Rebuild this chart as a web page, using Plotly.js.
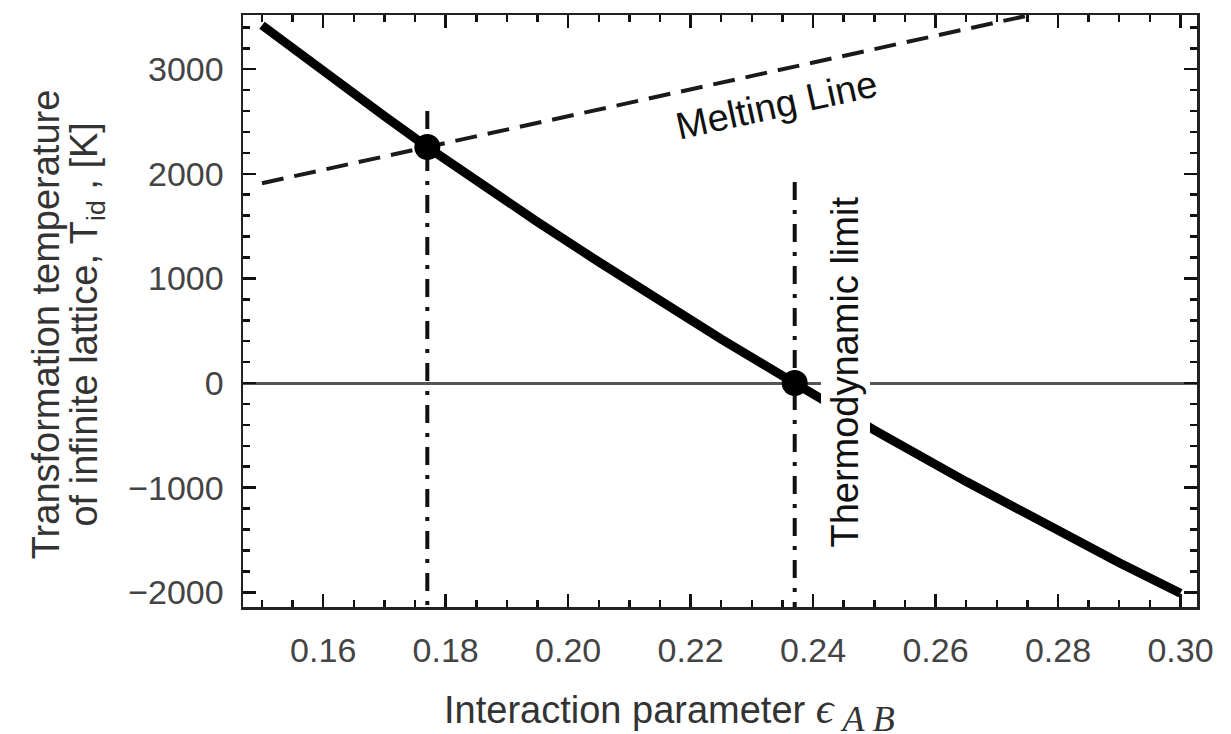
<!DOCTYPE html>
<html>
<head>
<meta charset="utf-8">
<script src="https://cdn.plot.ly/plotly-3.0.1.min.js"></script>
<style>
  html, body { margin: 0; padding: 0; background: #ffffff; }
  #chart { width: 1231px; height: 734px; }
</style>
</head>
<body>
<div id="chart"></div>
<script>
// Transformation temperature of the infinite lattice vs. interaction parameter
const epsAB = [0.150, 0.160, 0.170, 0.177, 0.185, 0.195, 0.205, 0.215, 0.225, 0.237, 0.250, 0.265, 0.280, 0.290, 0.300];
const tId   = [3420, 2978, 2552, 2256, 1932, 1540, 1158, 785, 420, 0, -450, -942, -1413, -1718, -2010];

// Melting line (straight, dashed)
const meltEps = [0.150, 0.2747];
const meltT   = [1910, 3508];

// Highlighted points: crossing with the melting line, and the thermodynamic limit
const markEps = [0.177, 0.237];
const markT   = [2256, 0];

// Vertical guide lines through the highlighted points
const guide1Eps = [0.177, 0.177];
const guide1T   = [2600, -2141];
const guide2Eps = [0.237, 0.237];
const guide2T   = [1922, -2141];

const xRange = [0.1469, 0.3027];
const yRange = [-2141, 3518];

const sans = 'Liberation Sans, Arial, Helvetica, sans-serif';
const ink = '#111111';

const traces = [
  {
    x: meltEps, y: meltT, type: 'scatter', mode: 'lines',
    line: { color: '#1a1a1a', width: 4, dash: '22px,11px' },
    hoverinfo: 'skip'
  },
  {
    x: guide1Eps, y: guide1T, type: 'scatter', mode: 'lines',
    line: { color: '#111', width: 4, dash: '18px,10px,4px,10px' },
    hoverinfo: 'skip'
  },
  {
    x: guide2Eps, y: guide2T, type: 'scatter', mode: 'lines',
    line: { color: '#111', width: 4, dash: '18px,10px,4px,10px' },
    hoverinfo: 'skip'
  },
  {
    x: epsAB, y: tId, type: 'scatter', mode: 'lines',
    line: { color: '#000', width: 9 },
    hoverinfo: 'skip'
  },
  {
    x: markEps, y: markT, type: 'scatter', mode: 'markers',
    marker: { color: '#000', size: 26, line: { width: 0 } },
    hoverinfo: 'skip'
  }
];

const tickCommon = {
  ticks: 'inside', ticklen: 13, tickwidth: 2.5, tickcolor: ink,
  showline: true, linecolor: '#222', linewidth: 2.5, mirror: 'allticks',
  showgrid: false,
  tickfont: { family: sans, size: 34, color: '#444' }
};

const layout = {
  width: 1231, height: 734,
  margin: { l: 243, r: 34, t: 15, b: 127, pad: 0 },
  paper_bgcolor: '#ffffff', plot_bgcolor: '#ffffff',
  showlegend: false,
  xaxis: Object.assign({}, tickCommon, {
    range: xRange, tick0: 0.16, dtick: 0.02, tickformat: '.2f',
    zeroline: false, ticklabelstandoff: 12,
    minor: { tick0: 0.15, dtick: 0.005, ticks: 'inside', ticklen: 7, tickwidth: 2.5, tickcolor: ink, showgrid: false }
  }),
  yaxis: Object.assign({}, tickCommon, {
    range: yRange, tick0: 0, dtick: 1000, tickformat: 'd',
    zeroline: true, zerolinecolor: '#555', zerolinewidth: 3,
    ticklabelstandoff: 10,
    minor: { tick0: 0, dtick: 200, ticks: 'inside', ticklen: 7, tickwidth: 2.5, tickcolor: ink, showgrid: false }
  }),
  annotations: [
    {
      text: 'Transformation temperature',
      xref: 'paper', yref: 'paper', x: -0.2063, y: 0.478,
      xanchor: 'center', yanchor: 'middle', textangle: -90, showarrow: false,
      font: { family: sans, size: 38, color: '#333' }
    },
    {
      text: 'of infinite lattice, T<sub>id</sub> , [K]',
      xref: 'paper', yref: 'paper', x: -0.163, y: 0.478,
      xanchor: 'center', yanchor: 'middle', textangle: -90, showarrow: false,
      font: { family: sans, size: 38, color: '#333' }
    },
    {
      text: 'Interaction parameter <span style="font-family:Liberation Serif;font-size:44px"><i>ϵ</i></span><sub><span style="font-family:Liberation Serif;font-size:36px"><i> A B</i></span></sub>',
      xref: 'paper', yref: 'paper', x: 0.4475, y: -0.176,
      xanchor: 'center', yanchor: 'middle', showarrow: false,
      font: { family: sans, size: 38, color: '#333' }
    },
    {
      text: 'Melting Line',
      xref: 'x', yref: 'y', x: 0.2340, y: 2660,
      xanchor: 'center', yanchor: 'middle', textangle: -12.4, showarrow: false,
      font: { family: sans, size: 38, color: '#111' }
    },
    {
      text: 'Thermodynamic limit',
      xref: 'x', yref: 'y', x: 0.2453, y: 105,
      xanchor: 'center', yanchor: 'middle', textangle: -90, showarrow: false,
      bgcolor: '#ffffff', borderpad: 3,
      font: { family: sans, size: 38, color: '#111' }
    }
  ]
};

Plotly.newPlot('chart', traces, layout, { staticPlot: true, displayModeBar: false });
</script>
</body>
</html>
